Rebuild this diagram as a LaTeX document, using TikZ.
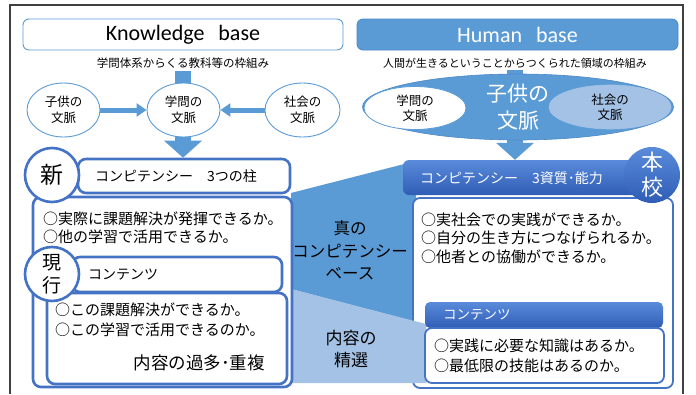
\documentclass[tikz,border=0pt]{standalone}
\usepackage{fontspec}
\setmainfont{Noto Sans CJK JP}
\newfontfamily\latinfont{Carlito}
\usetikzlibrary{arrows.meta,shapes.geometric,backgrounds}
\definecolor{kbblue}{HTML}{5B9BD5}
\definecolor{hbdark}{HTML}{4A88C8}
\definecolor{bxblue}{HTML}{4472C4}
\definecolor{ltblue}{HTML}{A4C2E6}
\definecolor{gtop}{HTML}{5A8BDA}
\definecolor{gbot}{HTML}{2F5DB6}
\definecolor{framegray}{HTML}{404040}
\newcommand{\jfs}[1]{\fontsize{#1}{#1}\selectfont}
\tikzset{
  kbox/.style={draw=kbblue, line width=0.9pt, fill=white, rounded corners=6pt, inner sep=0pt},
  kell/.style={ellipse, draw=kbblue, line width=0.9pt, fill=white, inner sep=0pt, align=center, font=\fontsize{12.5}{16}\selectfont},
  bbox/.style={draw=bxblue, line width=2.6pt, fill=white, rounded corners=8pt, inner sep=0pt},
  rbox/.style={draw=bxblue, line width=1.8pt, fill=white, rounded corners=7pt, inner sep=0pt},
  ghead/.style={top color=gtop, bottom color=gbot, draw=none, rounded corners=6pt, inner sep=0pt},
  txt/.style={anchor=west, inner sep=0pt, font=\jfs{15}},
  arr/.style={draw=kbblue, line width=5pt, -{Triangle[length=10pt,width=13pt]}},
  bigarr/.style={draw=kbblue, line width=16pt, -{Triangle[length=17pt,width=37pt]}}
}
\begin{document}
\begin{tikzpicture}[x=1pt,y=-1pt]
\useasboundingbox (0,0) rectangle (696,394);
\draw[framegray, line width=1.5pt] (10,394) -- (10,5) -- (683,5) -- (683,394);

% Knowledge base
\node[kbox, minimum width=320pt, minimum height=31pt] (kb) at (183,34.5) {\latinfont\fontsize{22}{22}\selectfont Knowledge\hspace{14pt}base};
\node[fill=white, inner sep=2pt, font=\jfs{11.5}] (kbsub) at (183,63) {学問体系からくる教科等の枠組み};
\node[kell, minimum width=73pt, minimum height=54pt] (kc) at (63.5,110) {子供の\\文脈};
\node[kell, minimum width=73pt, minimum height=54pt] (km) at (183.5,110) {学問の\\文脈};
\node[kell, minimum width=75pt, minimum height=54pt] (ks) at (302.5,110) {社会の\\文脈};
\draw[arr] (kc) -- (km);
\draw[arr] (ks) -- (km);

% Human base
\node[draw=hbdark, fill=kbblue, line width=0.8pt, rounded corners=6pt, minimum width=321pt, minimum height=31pt, inner sep=0pt, text=white] (hb) at (517.5,34.5) {\latinfont\fontsize{22}{22}\selectfont Human\hspace{14pt}base};
\node[fill=white, inner sep=2pt, font=\jfs{11}] (hbsub) at (515,63) {人間が生きるということからつくられた領域の枠組み};
\node[ellipse, fill=kbblue, draw=hbdark, line width=0.6pt, minimum width=311pt, minimum height=66pt, inner sep=0pt] (he) at (518,107) {};
\node[ellipse, fill=white, draw=kbblue, line width=0.8pt, minimum width=102pt, minimum height=43pt, inner sep=0pt, align=center, font=\fontsize{12.5}{15}\selectfont] (hg) at (415,108) {学問の\\文脈};
\node[ellipse, fill=ltblue, draw=ltblue, line width=0.6pt, minimum width=122pt, minimum height=44pt, inner sep=0pt, align=center, font=\fontsize{12.5}{15}\selectfont] (hs) at (610,107) {社会の\\文脈};
\node[text=white, inner sep=0pt, align=center, font=\fontsize{21}{27}\selectfont] (hc) at (518,107.5) {子供の\\文脈};

% middle polygons
\fill[kbblue] (291,193) -- (416,161) -- (416,322) -- (291,289) -- cycle;
\node[rbox, minimum width=260pt, minimum height=190pt] (rb) at (543,293) {};
\fill[ltblue] (291,289) -- (426,324) -- (426,383) -- (291,383) -- cycle;
\node[align=center, inner sep=0pt, font=\fontsize{16.5}{22.5}\selectfont] (mid1) at (350,250.5) {真の\\コンピテンシー\\ベース};
\node[align=center, inner sep=0pt, font=\fontsize{17}{22}\selectfont] (mid2) at (351,349) {内容の\\精選};

% left side
\node[bbox, minimum width=212pt, minimum height=34pt] (shin) at (184,176) {};
\node[txt, font=\jfs{14}] (shint) at (95,176) {コンピテンシー　3つの柱};
\node[bbox, minimum width=259pt, minimum height=190pt] (lbox) at (162.5,292) {};
\node[bbox, circle, minimum size=54pt, font=\jfs{23}] (shinc) at (52,175) {新};
\node[txt] (l1) at (43,219) {○実際に課題解決が発揮できるか。};
\node[txt] (l2) at (43,237) {○他の学習で活用できるか。};
\node[bbox, minimum width=210pt, minimum height=35pt] (gen) at (177,274.5) {};
\node[txt, font=\jfs{14}] (gent) at (88,275) {コンテンツ};
\node[bbox, minimum width=240pt, minimum height=91pt] (lin) at (167,338.5) {};
\node[txt] (l3) at (55,310) {○この課題解決ができるか。};
\node[txt] (l4) at (55,330) {○この学習で活用できるのか。};
\node[anchor=east, inner sep=0pt, font=\jfs{17.5}] (l5) at (265,363) {内容の過多･重複};
\node[bbox, circle, minimum size=54pt, align=center, font=\fontsize{19}{23}\selectfont] (genc) at (52,274) {現\\行};

% right side
\node[ghead, minimum width=247pt, minimum height=35pt] (rh) at (526.5,177.5) {};
\node[txt, text=white, font=\jfs{14}] (rht) at (420,178) {コンピテンシー　3資質･能力};
\node[circle, top color=gtop, bottom color=gbot, minimum size=56pt, inner sep=0pt, text=white, align=center, font=\fontsize{22}{25}\selectfont] (hon) at (652,175) {本\\校};
\node[txt] (r1) at (421,220) {○実社会での実践ができるか。};
\node[txt] (r2) at (421,238) {○自分の生き方につなげられるか。};
\node[txt] (r3) at (421,257) {○他者との協働ができるか。};
\node[ghead, rounded corners=5pt, minimum width=238pt, minimum height=26pt] (rch) at (544,315) {};
\node[txt, text=white, font=\jfs{13.5}] (rcht) at (443,315) {コンテンツ};
\node[rbox, minimum width=239pt, minimum height=55pt] (rcb) at (544.5,355.5) {};
\node[txt] (r4) at (434,346) {○実践に必要な知識はあるか。};
\node[txt] (r5) at (434,366) {○最低限の技能はあるのか。};

% connectors behind
\begin{scope}[on background layer]
\draw[bigarr] (kbsub.south) -- (kbsub.south |- shin.north);
\draw[bigarr] (hbsub.south) -- (hbsub.south |- rh.north);
\end{scope}
\end{tikzpicture}
\end{document}
